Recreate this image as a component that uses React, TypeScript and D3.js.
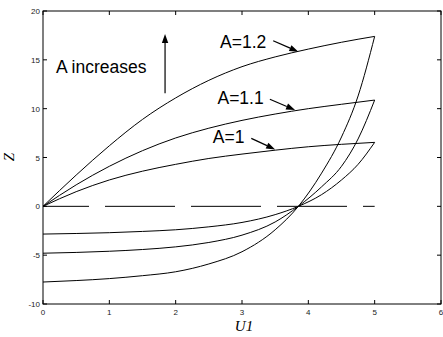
import React from "react";
import * as d3 from "d3";

// values
const uUpper = [0, 0.5, 1, 1.5, 2, 2.5, 3, 3.5, 4, 4.5, 5];
const zUpperA1 = [0, 1.5, 2.7, 3.6, 4.3, 4.9, 5.35, 5.75, 6.1, 6.35, 6.55];
const zUpperA11 = [0, 2.2, 4.1, 5.7, 7.0, 8.0, 8.8, 9.45, 10.0, 10.45, 10.88];
const zUpperA12 = [0, 3.2, 6.2, 8.9, 11.1, 12.9, 14.3, 15.3, 16.1, 16.8, 17.4];

const uLower = [0, 0.5, 1, 1.5, 2, 2.5, 3, 3.5, 3.85, 4.2, 4.5, 4.75, 5];
const zLowerA1 = [-2.84, -2.78, -2.7, -2.57, -2.4, -2.1, -1.65, -0.85, 0, 1.2, 2.7, 4.3, 6.55];
const zLowerA11 = [-4.8, -4.72, -4.6, -4.42, -4.15, -3.7, -2.95, -1.6, 0, 2.0, 4.1, 6.9, 10.88];
const zLowerA12 = [-7.75, -7.6, -7.4, -7.1, -6.7, -5.9, -4.65, -2.4, 0, 3.4, 7.1, 11.3, 17.4];

const xTicks = [0, 1, 2, 3, 4, 5, 6];
const yTicks = [-10, -5, 0, 5, 10, 15, 20];

const labels = ["A=1.2", "A=1.1", "A=1"];
const labelU = [2.67, 2.63, 2.56];
const labelZ = [16.18, 10.48, 6.45];
const arrowFrom = [[3.47, 16.96], [3.42, 10.96], [3.14, 6.96]];
const arrowTo = [[3.85, 15.83], [3.80, 9.86], [3.50, 5.83]];

const W = 443;
const H = 337;

const x = d3.scaleLinear().domain([0, 6]).range([43, 441]);
const y = d3.scaleLinear().domain([-10, 20]).range([304, 11]);

const line = d3.line<[number, number]>()
    .x(d => x(d[0]))
    .y(d => y(d[1]))
    .curve(d3.curveMonotoneX);

const zip = (us: number[], zs: number[]) => us.map((u, i) => [u, zs[i]] as [number, number]);

const curves = [
    zip(uUpper, zUpperA1), zip(uUpper, zUpperA11), zip(uUpper, zUpperA12),
    zip(uLower, zLowerA1), zip(uLower, zLowerA11), zip(uLower, zLowerA12)
];

// arrow with a filled head, pixel coords
function Arrow({x1, y1, x2, y2}: {x1: number, y1: number, x2: number, y2: number})
{
    const ang = Math.atan2(y2 - y1, x2 - x1);
    const len = 9, half = 3.2;
    const bx = x2 - len * Math.cos(ang), by = y2 - len * Math.sin(ang);
    const px = -Math.sin(ang) * half, py = Math.cos(ang) * half;
    return (
        <g>
            <line x1={x1} y1={y1} x2={bx} y2={by} stroke="#000" strokeWidth={1.2} />
            <polygon points={`${x2},${y2} ${bx + px},${by + py} ${bx - px},${by - py}`} fill="#000" />
        </g>
    );
}

export default function App()
{
    const [x0, x1] = x.range();
    const [y0, y1] = y.range();
    const tick = 4;
    return (
        <svg width={W} height={H} style={{position: "absolute", left: 0, top: 0, background: "#fff"}}
            fontFamily="Arial, 'Liberation Sans', sans-serif">
            <rect width={W} height={H} fill="#fff" />

            {/* zero line */}
            <line x1={x(0)} x2={x(5)} y1={y(0)} y2={y(0)} stroke="#000" strokeWidth={1}
                strokeDasharray="70 16" strokeDashoffset={24} />

            {curves.map((c, i) => (
                <path key={i} d={line(c) ?? ""} fill="none" stroke="#000" strokeWidth={1} />
            ))}

            {/* frame */}
            <rect x={x0} y={y1} width={x1 - x0} height={y0 - y1} fill="none" stroke="#000" strokeWidth={1} />

            {xTicks.map(t => (
                <g key={"x" + t}>
                    <line x1={x(t)} x2={x(t)} y1={y0} y2={y0 - tick} stroke="#000" />
                    <line x1={x(t)} x2={x(t)} y1={y1} y2={y1 + tick} stroke="#000" />
                    <text x={x(t)} y={y0 + 11} fontSize={8} textAnchor="middle" fill="#222">{t}</text>
                </g>
            ))}
            {yTicks.map(t => (
                <g key={"y" + t}>
                    <line x1={x0} x2={x0 + tick} y1={y(t)} y2={y(t)} stroke="#000" />
                    <line x1={x1} x2={x1 - tick} y1={y(t)} y2={y(t)} stroke="#000" />
                    <text x={x0 - 3} y={y(t) + 3} fontSize={8} textAnchor="end" fill="#222">{t}</text>
                </g>
            ))}

            {/* axis labels */}
            <text x={244} y={331} fontSize={15} fontStyle="italic" textAnchor="middle"
                fontFamily="'Liberation Serif', 'Times New Roman', serif">U1</text>
            <text transform="translate(14,157) rotate(-90)" fontSize={15} fontStyle="italic" textAnchor="middle"
                fontFamily="'Liberation Serif', 'Times New Roman', serif">Z</text>

            {/* annotations */}
            <text x={x(0.196)} y={y(13.62)} fontSize={17.5}>A increases</text>
            <Arrow x1={x(1.84)} y1={y(11.57)} x2={x(1.84)} y2={y(17.65)} />
            {labels.map((l, i) => (
                <g key={l}>
                    <text x={x(labelU[i])} y={y(labelZ[i])} fontSize={17.5}>{l}</text>
                    <Arrow x1={x(arrowFrom[i][0])} y1={y(arrowFrom[i][1])} x2={x(arrowTo[i][0])} y2={y(arrowTo[i][1])} />
                </g>
            ))}
        </svg>
    );
}
